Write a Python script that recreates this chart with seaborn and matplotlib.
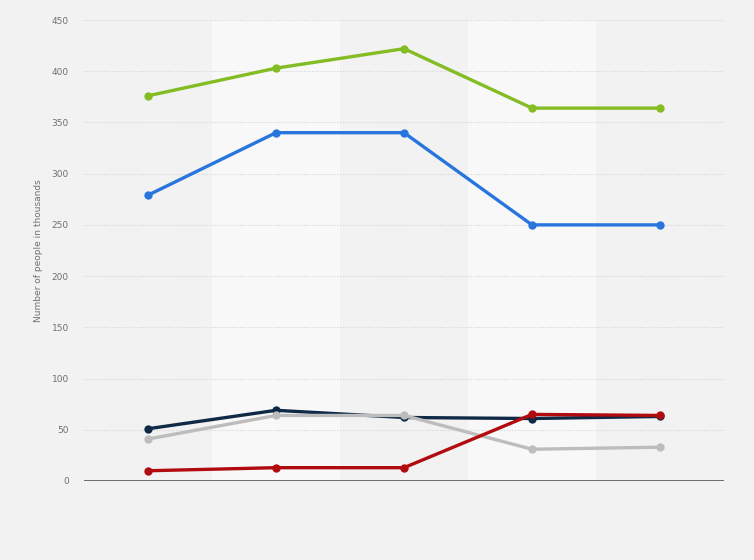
import pandas as pd
import matplotlib
matplotlib.use("Agg")
import matplotlib.pyplot as plt
import seaborn as sns

# data (values in thousands)
periods = ["P1", "P2", "P3", "P4", "P5"]
series_names = ["Series A", "Series B", "Series C", "Series D", "Series E"]
green_vals = [376, 403, 422, 364, 364]
blue_vals = [279, 340, 340, 250, 250]
navy_vals = [51, 69, 62, 61, 63]
gray_vals = [41, 64, 64, 31, 33]
red_vals = [10, 13, 13, 65, 64]
colors = ["#84bc23", "#2876dd", "#0f2a47", "#bdbdbd", "#b10a0f"]

df = pd.DataFrame({
    "period": periods * 5,
    "value": green_vals + blue_vals + navy_vals + gray_vals + red_vals,
    "series": [s for s in series_names for _ in periods],
})
df["x"] = df["period"].map({p: i for i, p in enumerate(periods)})

sns.set_style("white")
bg = "#f2f2f2"
fig = plt.figure(figsize=(7.54, 5.6), dpi=100, facecolor=bg)
ax = fig.add_axes([84 / 754, 1 - 481 / 560, 640 / 754, 461 / 560])
ax.set_facecolor(bg)

# alternating column bands
for i in range(len(periods)):
    if i % 2 == 1:
        ax.axvspan(i - 0.5, i + 0.5, color="#f8f8f8", zorder=0, lw=0)

# grid
for yv in range(50, 451, 50):
    ax.axhline(yv, color="#d4d4d4", lw=0.8, ls=(0, (1, 1.5)), zorder=1)
ax.axhline(0, color="#555555", lw=1.2, zorder=2)

sns.lineplot(data=df, x="x", y="value", hue="series", hue_order=series_names,
             palette=colors, marker="o", markersize=6, markeredgewidth=0,
             linewidth=2.4, legend=False, ax=ax, zorder=3)

ax.set_xlim(-0.5, len(periods) - 0.5)
ax.set_ylim(0, 450)
ax.set_yticks(range(0, 451, 50))
ax.set_xticks([])
ax.set_xlabel("")
ax.set_ylabel("Number of people in thousands", fontsize=6.5, color="#707070", labelpad=6)
ax.tick_params(axis="y", length=0, labelsize=6.5, labelcolor="#707070", pad=11)
for s in ax.spines.values():
    s.set_visible(False)

plt.savefig("out.png", dpi=100, facecolor=bg)
plt.close()
